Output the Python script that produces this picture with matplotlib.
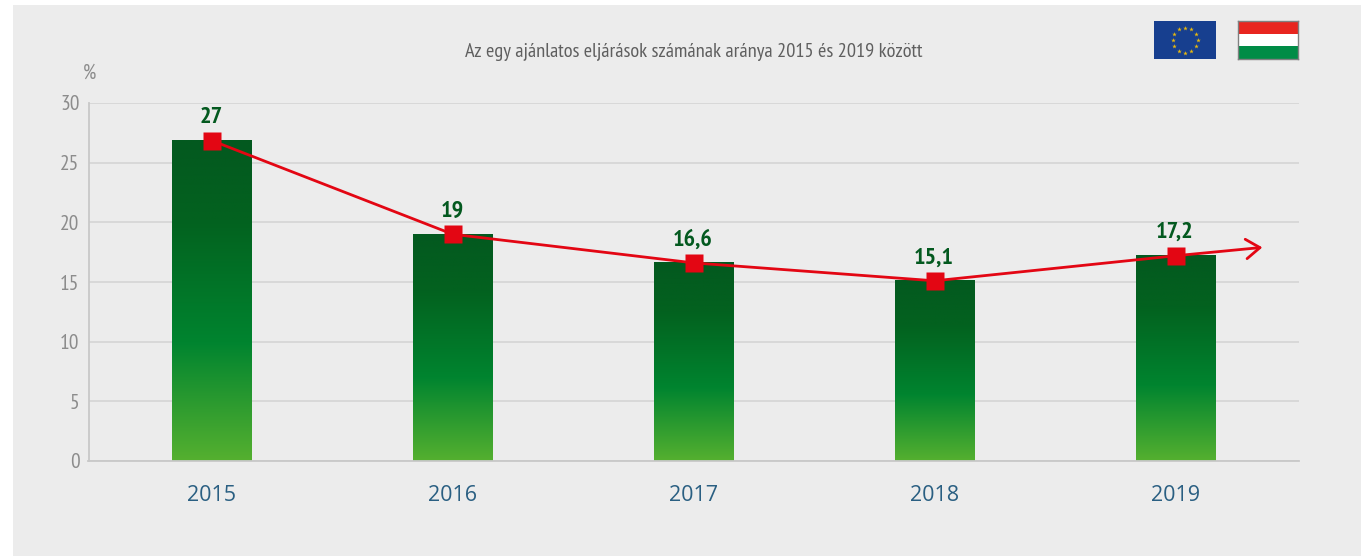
import logging
import numpy as np
import matplotlib
matplotlib.use('Agg')
import matplotlib.pyplot as plt
from matplotlib.colors import LinearSegmentedColormap
from matplotlib.patches import Rectangle

logging.getLogger('matplotlib.font_manager').setLevel(logging.ERROR)

years = ['2015', '2016', '2017', '2018', '2019']
bar_values = [26.85, 19, 16.6, 15.1, 17.2]
value_labels = ['27', '19', '16,6', '15,1', '17,2']
y_ticks = [0, 5, 10, 15, 20, 25, 30]
trend_end = (4.36, 17.9)
title = 'Az egy ajánlatos eljárások számának aránya 2015 és 2019 között'

W, H = 1361, 556
narrow = ['PT Sans Narrow', 'Asap Condensed', 'Archivo Narrow', 'Liberation Sans', 'DejaVu Sans']

fig = plt.figure(figsize=(W / 100, H / 100), dpi=100, facecolor='white')
# grey panel behind everything
fig.add_artist(Rectangle((13 / W, 0), (W - 13) / W, 551 / H, transform=fig.transFigure,
                         facecolor='#ececec', edgecolor='none', zorder=-1))


def px_axes(x0, y0, x1, y1):
    # pixel box measured from the top left of the image
    return fig.add_axes([x0 / W, 1 - y1 / H, (x1 - x0) / W, (y1 - y0) / H])


ax = px_axes(88.5, 103, 1299, 461)
ax.patch.set_alpha(0)
xs = np.arange(len(years))
bar_w = 80 / 241

green = LinearSegmentedColormap.from_list('bar', [(0, '#03591f'), (0.25, '#03621f'), (0.63, '#00842f'), (1, '#55b030')])
grad = np.linspace(0, 1, 256).reshape(-1, 1)
for x, v in zip(xs, bar_values):
    ax.imshow(grad, cmap=green, aspect='auto', extent=(x - bar_w / 2, x + bar_w / 2, 0, v), zorder=2)

ax.plot(xs, bar_values, color='#e30613', lw=2.0, zorder=3)
ax.annotate('', xy=trend_end, xytext=(xs[-1], bar_values[-1]), zorder=3,
            arrowprops=dict(arrowstyle='->,head_length=1.0,head_width=0.7', color='#e30613', lw=2.0,
                            shrinkA=0, shrinkB=0))
ax.plot(xs, bar_values, ls='none', marker='s', ms=12.4, mfc='#e30613', mec='none', zorder=4)

for x, v, lab in zip(xs, bar_values, value_labels):
    ax.annotate(lab, (x, v), xytext=(-0.5, 9), textcoords='offset points', ha='center', va='bottom',
                family=narrow, fontsize=17.5, fontweight='bold', color='#03591f', zorder=5)

ax.set_xlim(-0.512, 4.512)
ax.set_ylim(0, 30)
ax.set_yticks(y_ticks)
ax.grid(axis='y', color='#d2d2d2', lw=1.1, zorder=1)
ax.set_axisbelow(True)
for s in ['top', 'right']:
    ax.spines[s].set_visible(False)
for s in ['left', 'bottom']:
    ax.spines[s].set_color('#c8c8c8')
    ax.spines[s].set_linewidth(1.3)
ax.set_xticks(xs)
ax.set_xticklabels(years, family='Open Sans', fontsize=15.5, color='#2a5f82')
ax.tick_params(axis='x', length=0, pad=17.5)
ax.tick_params(axis='y', length=0, pad=6.5, labelcolor='#8c8c8c', labelsize=15.5)
for t in ax.get_yticklabels():
    t.set_family(narrow)

fig.text(694 / W, 1 - 52 / H, title, ha='center', va='center', family=narrow, fontsize=14.7, color='#5f5f5f')
fig.text(89 / W, 1 - 73 / H, '%', ha='center', va='center', family=narrow, fontsize=15, color='#8c8c8c')

# EU flag
eu = px_axes(1154, 21, 1216, 59)
eu.set_xlim(0, 62)
eu.set_ylim(38, 0)
eu.axis('off')
eu.add_patch(Rectangle((0, 0), 62, 38, facecolor='#173f8f', edgecolor='none'))
ang = np.arange(12) * np.pi / 6
eu.scatter(31 + 12.5 * np.cos(ang), 19 + 12.5 * np.sin(ang), marker='*', s=12, color='#e8b90f', linewidths=0)

# Hungarian flag
hu = px_axes(1238, 21, 1298, 59)
hu.set_xlim(0, 1)
hu.set_ylim(0, 3)
hu.set_xticks([])
hu.set_yticks([])
hu.axhspan(2, 3, color='#e8251f', lw=0)
hu.axhspan(1, 2, color='white', lw=0)
hu.axhspan(0, 1, color='#008c46', lw=0)
for s in hu.spines.values():
    s.set_color('#808080')
    s.set_linewidth(1)

fig.savefig('out.png', dpi=100, facecolor='white')
